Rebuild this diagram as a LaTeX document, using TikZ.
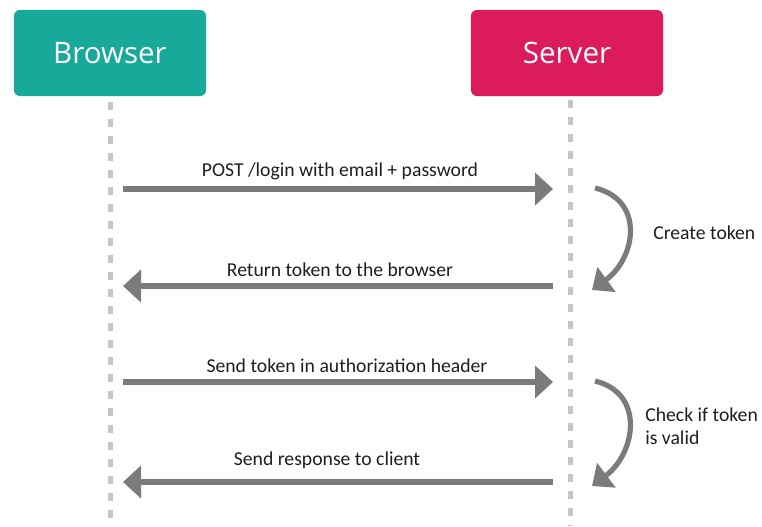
\documentclass[tikz,border=0pt]{standalone}
\usepackage{fontspec}
\setmainfont{Carlito}
\newfontfamily\headfont{Open Sans}
\usetikzlibrary{arrows.meta}

\definecolor{browsercol}{HTML}{17A99A}
\definecolor{servercol}{HTML}{DC1B5B}
\definecolor{msggray}{HTML}{7B7B7B}
\definecolor{lifegray}{HTML}{C6C6C6}
\definecolor{txtcol}{HTML}{1E1E1E}

\tikzset{
  actor/.style={rounded corners=0.15cm, minimum width=4.8cm, minimum height=2.15cm,
    text=white, font=\headfont\fontsize{21}{24}\selectfont, inner sep=0pt},
  lifeline/.style={draw=lifegray, line width=0.125cm, dash pattern=on 0.2cm off 0.225cm},
  msg/.style={draw=msggray, line width=0.15cm, -{Triangle[length=0.45cm, width=0.8cm]}},
  selfmsg/.style={draw=msggray, line width=0.13cm, -{Triangle[length=0.45cm, width=0.75cm]}},
  msglabel/.style={text=txtcol, font=\fontsize{14}{16.5}\selectfont, inner sep=0pt},
}

\begin{document}
\begin{tikzpicture}[x=0.025cm, y=-0.025cm]
      \useasboundingbox (0,0) rectangle (762,526);

      % actors
      \node[actor, fill=browsercol] (browser) at (110,53) {Browser};
      \node[actor, fill=servercol] (server) at (567,53) {Server};

      % lifelines
      \coordinate (bend) at (110,526);
      \coordinate (send) at (570,526);
      \draw[lifeline] (browser.south) ++(0,-4pt) coordinate (btop) -- (bend);
      \draw[lifeline] (570,100) coordinate (stop) -- (send);

      % points on the lifelines
      \coordinate (b1) at (123,189);  \coordinate (s1) at (553,189);
      \coordinate (b2) at (123,286);  \coordinate (s2) at (553,286);
      \coordinate (b3) at (123,382);  \coordinate (s3) at (553,382);
      \coordinate (b4) at (123,482);  \coordinate (s4) at (553,482);

      % messages
      \draw[msg] (b1) -- (s1);
      \node[msglabel] (login) at (340,171) {POST /login with email + password};

      \draw[msg] (s2) -- (b2);
      \node[msglabel] (return) at (340,270) {Return token to the browser};

      \draw[msg] (b3) -- (s3);
      \node[msglabel] (sendtok) at (347,366) {Send token in authorization header};

      \draw[msg] (s4) -- (b4);
      \node[msglabel] (respond) at (327,460) {Send response to client};

      % server side work
      \coordinate (c1s) at (595,188);  \coordinate (c1e) at (592,290);
      \draw[selfmsg] (c1s) .. controls (645,200) and (636,258) .. (c1e);
      \node[msglabel, anchor=west] (create) at (653,233) {Create token};

      \coordinate (c2s) at (595,381);  \coordinate (c2e) at (592,486);
      \draw[selfmsg] (c2s) .. controls (645,393) and (636,453) .. (c2e);
      \node[msglabel, anchor=west, align=left] (check) at (645,426)
        {Check if token\\is valid};
    \end{tikzpicture}
\end{document}
